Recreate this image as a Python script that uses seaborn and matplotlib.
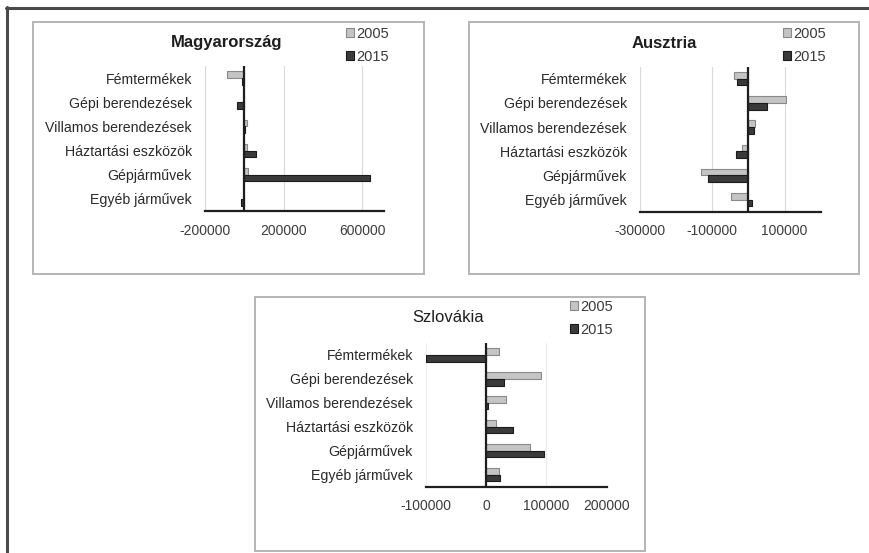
import matplotlib
matplotlib.use("Agg")
import matplotlib.pyplot as plt
import seaborn as sns
import pandas as pd
from matplotlib.patches import Rectangle
from matplotlib.lines import Line2D

sns.set_theme(style="white")
plt.rcParams['font.family'] = ['Liberation Sans', 'DejaVu Sans']

categories = ["Fémtermékek", "Gépi berendezések", "Villamos berendezések",
              "Háztartási eszközök", "Gépjárművek", "Egyéb járművek"]
years = ["2005", "2015"]

hu_2005 = [-90000, 0, 15000, 12000, 20000, 0]
hu_2015 = [-10000, -36000, 3000, 58000, 640000, -19000]

at_2005 = [-41000, 103000, 17500, -18000, -132000, -49000]
at_2015 = [-32000, 52000, 16500, -35000, -112000, 11000]

sk_2005 = [21600, 91000, 32000, 16000, 73000, 21000]
sk_2015 = [-100000, 29000, 3300, 45000, 96000, 23000]

hu_ticks = [-200000, 200000, 600000]
at_ticks = [-300000, -100000, 100000]
sk_ticks = [-100000, 0, 100000, 200000]

W, H = 869, 553
fig = plt.figure(figsize=(W / 100, H / 100), dpi=100)
fig.patch.set_facecolor("white")


def fx(x):
    return x / W


def fy(y):
    return 1 - y / H


def panel_box(x0, y0, x1, y1):
    fig.patches.append(Rectangle((fx(x0), fy(y1)), fx(x1) - fx(x0), fy(y0) - fy(y1),
                                 transform=fig.transFigure, fill=False,
                                 edgecolor="#b4b4b4", linewidth=1.4, zorder=0))


# outer frame (top and left)
fig.add_artist(Line2D([fx(6), fx(869)], [fy(7.5), fy(7.5)], transform=fig.transFigure,
                      color="#4a4a4a", linewidth=2.2))
fig.add_artist(Line2D([fx(6.5), fx(6.5)], [fy(7), fy(553)], transform=fig.transFigure,
                      color="#4a4a4a", linewidth=2.2))

panel_box(33, 22, 424, 274)
panel_box(469, 22, 859, 274)
panel_box(255, 297, 645, 551)

colors = {"2005": "#c4c4c4", "2015": "#3a3a3a"}
edges = {"2005": "#8a8a8a", "2015": "#1a1a1a"}


def draw(rect_px, v05, v15, xlim, ticks, title, title_xy, title_w, leg_xy, grid_alpha):
    x0, y0, x1, y1 = rect_px
    ax = fig.add_axes([fx(x0), fy(y1), fx(x1) - fx(x0), fy(y0) - fy(y1)])
    df = pd.DataFrame({
        "cat": categories * 2,
        "val": list(v05) + list(v15),
        "year": [years[0]] * len(categories) + [years[1]] * len(categories),
    })
    sns.barplot(data=df, x="val", y="cat", hue="year", hue_order=years, orient="h",
                palette=colors, width=0.55, ax=ax, linewidth=0.8, saturation=1)
    for cont, yr in zip(ax.containers, years):
        for p in cont:
            p.set_edgecolor(edges[yr])
    ax.set_xlim(*xlim)
    ax.set_xticks(ticks)
    ax.set_xticklabels([str(t) for t in ticks])
    ax.set_xlabel("")
    ax.set_ylabel("")
    ax.set_facecolor("none")
    for s in ["left", "right", "top"]:
        ax.spines[s].set_visible(False)
    ax.spines["bottom"].set_color("#1e1e1e")
    ax.spines["bottom"].set_linewidth(1.6)
    ax.axvline(0, color="#1e1e1e", linewidth=1.6, zorder=3)
    ax.grid(axis="x", color="#dadada", linewidth=0.8, alpha=grid_alpha)
    ax.grid(axis="y", visible=False)
    ax.set_axisbelow(True)
    ax.tick_params(axis="x", length=0, pad=9, labelsize=10, labelcolor="#3c3c3c")
    ax.tick_params(axis="y", length=0, pad=9.5, labelsize=10.2, labelcolor="#2a2a2a")
    leg = ax.get_legend()
    handles = [Rectangle((0, 0), 1, 1, facecolor=colors[y], edgecolor=edges[y], linewidth=0.8)
               for y in years]
    leg.remove()
    ax.legend(handles, years, loc="upper left", bbox_to_anchor=(fx(leg_xy[0]), fy(leg_xy[1])),
              bbox_transform=fig.transFigure, frameon=False, borderpad=0, borderaxespad=0,
              handlelength=0.55, handleheight=0.55, handletextpad=0.15, labelspacing=0.6,
              prop={"size": 10.5}, labelcolor="#3a3a3a")
    fig.text(fx(title_xy[0]), fy(title_xy[1]), title, ha="center", va="center",
             fontsize=12, fontweight=title_w, color="#1e1e1e")
    return ax


draw((205, 66, 383.8, 211), hu_2005, hu_2015, (-200000, 710000), hu_ticks,
     "Magyarország", (227, 43), "bold", (346, 27), 1.0)
draw((640, 66.7, 820.7, 211.7), at_2005, at_2015, (-300000, 200000), at_ticks,
     "Ausztria", (664, 43), "bold", (783, 27), 1.0)
draw((426, 343, 606.7, 486.7), sk_2005, sk_2015, (-100000, 200000), sk_ticks,
     "Szlovákia", (448, 317), "normal", (570, 300), 0.5)

fig.savefig("out.png", dpi=100, facecolor="white")
